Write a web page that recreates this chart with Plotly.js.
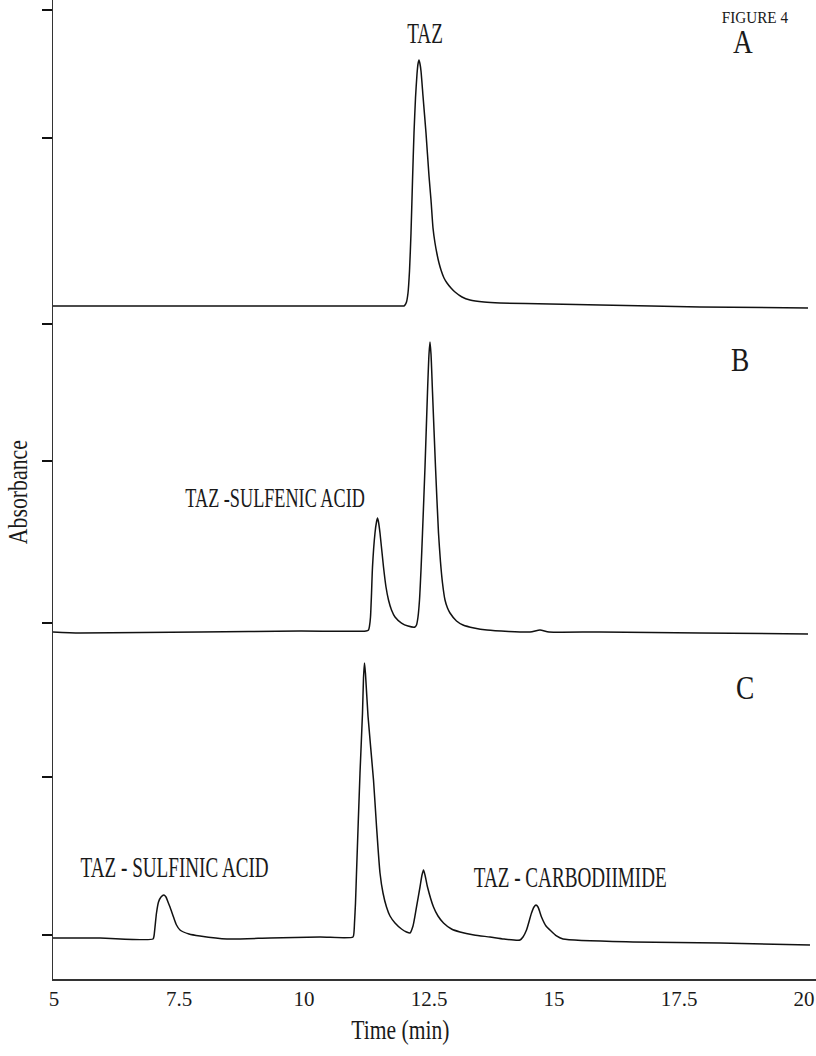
<!DOCTYPE html>
<html>
<head>
<meta charset="utf-8">
<script src="https://cdn.plot.ly/plotly-3.0.1.min.js"></script>
<style>
  html, body { margin: 0; padding: 0; background: #fff; }
  #chart { width: 816px; height: 1056px; }
</style>
</head>
<body>
<div id="chart"></div>
<script>
// ---- Data (time in min, absorbance in mAU relative to each baseline) ----
const timeA = [4.98, 6.92, 9.92, 11.92, 12.00, 12.02, 12.05, 12.08, 12.11, 12.14, 12.17, 12.20, 12.23, 12.26, 12.28, 12.30, 12.32, 12.34, 12.38, 12.44, 12.50, 12.54, 12.58, 12.62, 12.66, 12.70, 12.74, 12.80, 12.86, 12.94, 13.02, 13.16, 13.32, 13.60, 13.92, 14.92, 15.92, 17.92, 20.08];
const absA  = [0, 0, 0, 0, 0, 1, 4, 13, 35, 73, 125, 173, 208, 232, 242, 246, 242, 235, 210, 173, 130, 106, 78, 63, 52, 43, 36, 28, 23, 18, 14, 9, 6, 4, 3, 2, 1, -1, -2];

const timeB = [4.98, 5.52, 7.92, 9.92, 11.24, 11.29, 11.31, 11.33, 11.35, 11.37, 11.42, 11.45, 11.47, 11.49, 11.52, 11.59, 11.64, 11.69, 11.75, 11.82, 11.95, 12.08, 12.22, 12.25, 12.28, 12.31, 12.34, 12.37, 12.42, 12.47, 12.50, 12.52, 12.54, 12.57, 12.63, 12.69, 12.73, 12.77, 12.82, 12.87, 12.92, 13.05, 13.18, 13.40, 13.66, 14.52, 14.72, 14.90, 15.92, 17.92, 20.08];
const absB  = [0, -1, 0, 1, 1, 2, 6, 15, 38, 65, 99, 110, 114, 110, 99, 65, 45, 32, 22, 15, 9, 6, 5, 7, 15, 32, 62, 99, 165, 240, 278, 290, 278, 240, 165, 99, 70, 49, 32, 24, 19, 11, 7, 4, 2, 0, 2, 0, 0, -1, -2];

const timeC = [4.98, 5.92, 6.98, 7.00, 7.02, 7.05, 7.09, 7.14, 7.20, 7.24, 7.28, 7.32, 7.39, 7.45, 7.52, 7.70, 7.92, 8.46, 9.32, 10.32, 10.98, 11.00, 11.01, 11.03, 11.05, 11.12, 11.17, 11.19, 11.21, 11.23, 11.28, 11.39, 11.45, 11.52, 11.58, 11.65, 11.72, 11.82, 11.95, 12.05, 12.12, 12.18, 12.25, 12.32, 12.36, 12.39, 12.42, 12.47, 12.59, 12.68, 12.79, 12.95, 13.12, 13.40, 13.72, 14.00, 14.32, 14.38, 14.45, 14.55, 14.60, 14.64, 14.68, 14.75, 14.84, 14.92, 15.05, 15.18, 16.58, 18.32, 20.12];
const absC  = [0, 0, -1, 2, 11, 25, 36, 41, 43, 41, 36, 31, 21, 13, 8, 4, 2, -1, 0, 1, 1, 6, 15, 35, 65, 165, 225, 260, 275, 264, 222, 158, 112, 65, 45, 31, 22, 15, 9, 6, 5, 12, 31, 51, 63, 68, 63, 51, 31, 22, 15, 9, 6, 3, 1, -1, -2, 1, 8, 25, 31, 33, 31, 21, 12, 8, 2, -1, -4, -5, -7];

const xTickVals = [5, 7.5, 10, 12.5, 15, 17.5, 20];
const xTickText = ['5', '7.5', '10', '12.5', '15', '17.5', '20'];

const panelLetters = ['A', 'B', 'C'];
const peakLabels = ['TAZ', 'TAZ -SULFENIC ACID', 'TAZ - SULFINIC ACID', 'TAZ - CARBODIIMIDE'];
const figureLabel = 'FIGURE 4';
const xTitle = 'Time (min)';
const yTitle = 'Absorbance';

// ---- Plot ----
const SERIF = '"Liberation Serif", "Times New Roman", serif';
const INK = '#1a1a1a';
const lineStyle = { color: '#111', width: 1.5, shape: 'spline', smoothing: 0.6 };

const traces = [
  { x: timeA, y: absA, xaxis: 'x', yaxis: 'y',  mode: 'lines', line: lineStyle, hoverinfo: 'skip' },
  { x: timeB, y: absB, xaxis: 'x', yaxis: 'y2', mode: 'lines', line: lineStyle, hoverinfo: 'skip' },
  { x: timeC, y: absC, xaxis: 'x', yaxis: 'y3', mode: 'lines', line: lineStyle, hoverinfo: 'skip' }
];

const yCommon = {
  anchor: 'x', showline: true, linecolor: '#333', linewidth: 1.5,
  ticks: 'outside', ticklen: 10, tickwidth: 2, tickcolor: '#111',
  showticklabels: false, showgrid: false, zeroline: false, fixedrange: true
};

const annotations = [
  { text: figureLabel, xref: 'paper', yref: 'paper', x: 0.920, y: 0.9826, font: { size: 16 }, sx: 0.95 },
  { text: panelLetters[0], xref: 'paper', yref: 'paper', x: 0.9043, y: 0.9571, font: { size: 33 }, sx: 0.83 },
  { text: panelLetters[1], xref: 'paper', yref: 'paper', x: 0.9004, y: 0.6323, font: { size: 33 }, sx: 0.83 },
  { text: panelLetters[2], xref: 'paper', yref: 'paper', x: 0.9070, y: 0.2972, font: { size: 33 }, sx: 0.83 },
  { text: peakLabels[0], xref: 'x', yref: 'y',  x: 12.42, y: 273, font: { size: 29 }, sx: 0.66 },
  { text: peakLabels[1], xref: 'x', yref: 'y2', x: 9.41,  y: 135, font: { size: 28 }, sx: 0.65 },
  { text: peakLabels[2], xref: 'x', yref: 'y3', x: 7.40,  y: 71,  font: { size: 29 }, sx: 0.66 },
  { text: peakLabels[3], xref: 'x', yref: 'y3', x: 15.32, y: 61,  font: { size: 29 }, sx: 0.66 },
  { text: yTitle, xref: 'paper', yref: 'paper', x: -0.0472, y: 0.4974, textangle: -90, font: { size: 28 }, sx: 0.78 },
  { text: xTitle, xref: 'paper', yref: 'paper', x: 0.456, y: -0.0521, font: { size: 27 }, sx: 0.80 }
].map(a => Object.assign({ showarrow: false, xanchor: 'center', yanchor: 'middle' }, a, {
  font: Object.assign({ family: SERIF, color: INK }, a.font)
}));
const condense = annotations.map(a => a.sx);
annotations.forEach(a => delete a.sx);

const layout = {
  width: 816, height: 1056,
  margin: { l: 53, r: 0, t: 0, b: 77, pad: 0 },
  paper_bgcolor: '#fff', plot_bgcolor: '#fff',
  showlegend: false,
  xaxis: {
    range: [4.98, 20.24], anchor: 'y3', domain: [0, 1],
    showline: true, linecolor: '#333', linewidth: 1.5,
    ticks: '', tickvals: xTickVals, ticktext: xTickText,
    tickfont: { family: SERIF, size: 21, color: INK },
    ticklabelstandoff: 0,
    showgrid: false, zeroline: false, fixedrange: true
  },
  yaxis:  Object.assign({}, yCommon, { domain: [0.67722, 1],       range: [-10, 306], tickvals: [168, 296] }),
  yaxis2: Object.assign({}, yCommon, { domain: [0.35036, 0.67722], range: [-4, 316],  tickvals: [9, 171, 308] }),
  yaxis3: Object.assign({}, yCommon, { domain: [0, 0.35036],       range: [-41, 302], tickvals: [3, 161] }),
  annotations: annotations
};

Plotly.newPlot('chart', traces, layout, { staticPlot: true, displayModeBar: false }).then(() => {
  document.querySelectorAll('#chart g.annotation').forEach(g => {
    const i = +g.getAttribute('data-index');
    const t = g.querySelector('text.annotation-text');
    if (!t || !(i in condense)) return;
    t.style.transformBox = 'fill-box';
    t.style.transformOrigin = 'center';
    t.style.transform = 'scaleX(' + condense[i] + ')';
  });
});
</script>
</body>
</html>
